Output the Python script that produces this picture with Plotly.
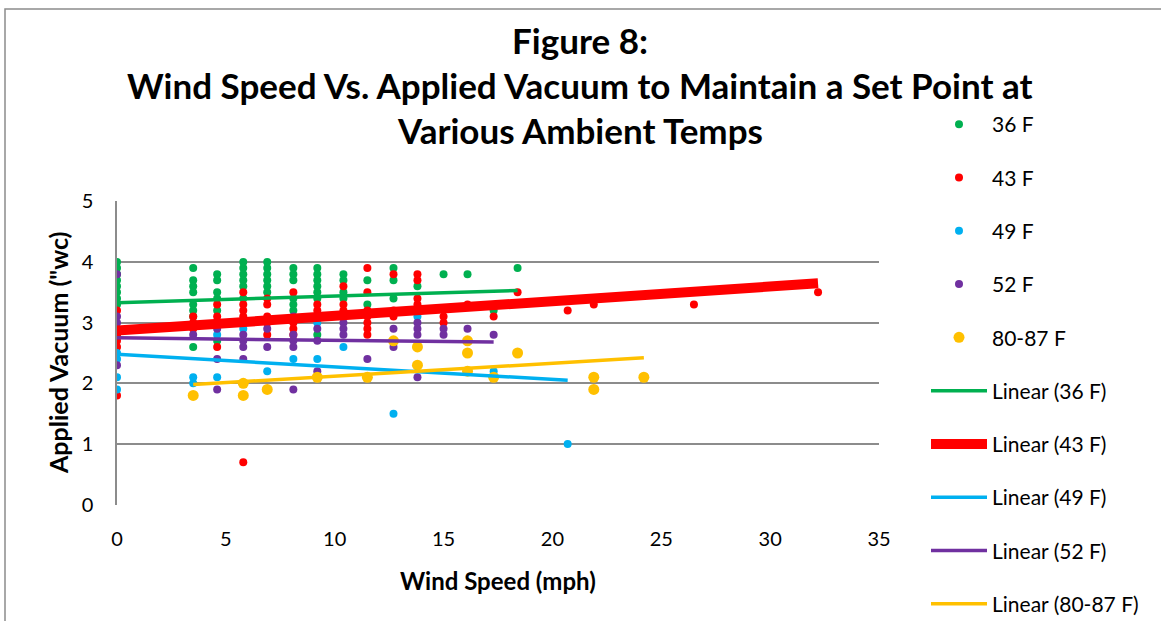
import plotly.graph_objects as go

# ---------------- data ----------------
x36 = [0]*9 + [3.5]*8 + [4.6]*6 + [5.8]*7 + [6.9]*6 + [8.1]*6 + [9.2]*7 + [10.4]*4 + [11.5]*2 + [12.7]*3 + [13.8, 15.0, 16.1, 17.3, 18.4]
y36 = [4.0, 3.9, 3.8, 3.7, 3.6, 3.5, 3.4, 3.3, 2.8,
       3.9, 3.7, 3.6, 3.5, 3.3, 3.2, 3.1, 2.6,
       3.8, 3.7, 3.5, 3.4, 3.2, 2.7,
       4.0, 3.9, 3.8, 3.7, 3.6, 3.4, 3.0,
       4.0, 3.9, 3.8, 3.7, 3.6, 3.5,
       3.9, 3.8, 3.7, 3.4, 3.3, 3.2,
       3.9, 3.8, 3.7, 3.6, 3.5, 3.4, 2.8,
       3.8, 3.7, 3.5, 3.4,
       3.7, 3.3,
       3.9, 3.7, 3.4,
       3.6, 3.8, 3.8, 3.2, 3.9]

x43 = [0]*5 + [3.5]*3 + [4.6]*4 + [5.8]*5 + [6.9]*5 + [8.1]*4 + [9.2]*3 + [10.4]*4 + [11.5]*7 + [12.7]*3 + [13.8]*5 + [15.0]*2 + [16.1, 17.3, 18.4, 20.7, 21.9, 26.5, 32.2]
y43 = [3.2, 2.8, 2.7, 2.6, 1.8,
       3.1, 3.0, 2.9,
       3.3, 3.1, 3.0, 2.6,
       3.5, 3.3, 3.2, 3.1, 0.7,
       3.4, 3.3, 3.1, 3.0, 2.8,
       3.5, 3.0, 2.9, 2.8,
       3.3, 3.2, 3.1,
       3.6, 3.3, 3.2, 3.1,
       3.9, 3.5, 3.2, 3.1, 3.0, 2.9, 2.8,
       3.8, 3.2, 3.1,
       3.8, 3.7, 3.4, 3.3, 3.2,
       3.1, 3.0,
       3.3, 3.1, 3.5, 3.2, 3.3, 3.3, 3.5]

x49 = [0, 0, 0, 0, 3.5, 3.5, 4.6, 4.6, 5.8, 6.9, 8.1, 9.2, 9.2, 10.4, 12.7, 13.8, 17.3, 20.7]
y49 = [2.5, 2.4, 2.1, 1.9, 2.1, 2.0, 2.8, 2.1, 2.9, 2.2, 2.4, 3.0, 2.4, 2.6, 1.5, 3.1, 2.2, 1.0]

x52 = [0]*5 + [3.5] + [4.6]*3 + [5.8]*4 + [6.9]*2 + [8.1]*5 + [9.2]*3 + [10.4]*3 + [11.5] + [12.7]*2 + [13.8]*4 + [15.0]*2 + [16.1, 17.3]
y52 = [3.8, 3.1, 3.0, 2.9, 2.3,
       2.8,
       2.9, 2.4, 1.9,
       2.8, 2.7, 2.6, 2.4,
       2.9, 2.6,
       3.1, 2.8, 2.7, 2.6, 1.9,
       2.9, 2.7, 2.2,
       3.0, 2.9, 2.8,
       2.4,
       2.9, 2.6,
       3.0, 2.9, 2.8, 2.1,
       2.9, 2.8,
       2.9, 2.8]

x80 = [3.5, 5.8, 5.8, 6.9, 9.2, 11.5, 12.7, 13.8, 13.8, 16.1, 16.1, 16.1, 17.3, 18.4, 21.9, 21.9, 24.2]
y80 = [1.8, 2.0, 1.8, 1.9, 2.1, 2.1, 2.7, 2.6, 2.3, 2.7, 2.5, 2.2, 2.1, 2.5, 2.1, 1.9, 2.1]

# linear trendline end points as drawn in the reference
tx36, ty36 = [0, 18.4], [3.33, 3.53]
tx43, ty43 = [0, 32.2], [2.87, 3.65]
tx49, ty49 = [0, 20.7], [2.48, 2.05]
tx52, ty52 = [0, 17.3], [2.75, 2.68]
tx80, ty80 = [3.5, 24.2], [1.98, 2.42]

x_ticks = [0, 5, 10, 15, 20, 25, 30, 35]
y_ticks = [0, 1, 2, 3, 4, 5]

GREEN, RED, BLUE, PURPLE, YELLOW = "#00B050", "#FF0000", "#00B0F0", "#7030A0", "#FFC000"
FONT = "Lato"

fig = go.Figure()

scatter_series = [
    ("36 F", x36, y36, GREEN, 8),
    ("43 F", x43, y43, RED, 8),
    ("49 F", x49, y49, BLUE, 8),
    ("52 F", x52, y52, PURPLE, 8),
    ("80-87 F", x80, y80, YELLOW, 11),
]
for name, xs, ys, col, sz in scatter_series:
    fig.add_trace(go.Scatter(x=xs, y=ys, mode="markers", name=name, legendgroup=name,
                             marker=dict(color=col, size=sz, line=dict(width=0))))

trend_series = [
    ("Linear (36 F)", tx36, ty36, GREEN, 3.5),
    ("Linear (43 F)", tx43, ty43, RED, 10),
    ("Linear (49 F)", tx49, ty49, BLUE, 3.5),
    ("Linear (52 F)", tx52, ty52, PURPLE, 3.5),
    ("Linear (80-87 F)", tx80, ty80, YELLOW, 3.5),
]
for name, xs, ys, col, w in trend_series:
    fig.add_trace(go.Scatter(x=xs, y=ys, mode="lines", name=name, legendgroup=name,
                             line=dict(color=col, width=w)))

# body margin is removed (see post_script) so positions are screenshot pixels
L, T = 117, 201
W, H = 1161, 621
pw, ph = 762, 304
R, B = W - L - pw, H - T - ph

def px_x(p):
    return (p - L) / pw

def px_y(p):
    return (T + ph - p) / ph

fig.update_layout(
    width=W, height=H,
    margin=dict(l=L, r=R, t=T, b=B, autoexpand=False),
    paper_bgcolor="white", plot_bgcolor="white",
    font=dict(family=FONT, color="#000000"),
    showlegend=True,
    legend=dict(x=px_x(926), y=px_y(104), xanchor="left", yanchor="top",
                font=dict(size=21, family=FONT), tracegroupgap=23,
                itemwidth=56, bgcolor="rgba(0,0,0,0)", maxheight=1.0),
    xaxis=dict(range=[0, 35], tickvals=x_ticks, showgrid=False, zeroline=False,
               showline=False, tickfont=dict(size=20), ticks="", ticklabelstandoff=20,
               fixedrange=True),
    yaxis=dict(range=[-0.006, 5.006], tickvals=y_ticks, showgrid=True, gridcolor="#8C8C8C",
               gridwidth=1.5, zeroline=False, showline=True, linecolor="#8C8C8C",
               linewidth=1.5, tickfont=dict(size=20), ticks="", ticklabelstandoff=18,
               fixedrange=True),
)

title_lines = [
    ("Figure 8:", 40),
    ("Wind Speed Vs. Applied Vacuum to Maintain a Set Point at", 85),
    ("Various Ambient Temps", 130),
]
for txt, yp in title_lines:
    fig.add_annotation(text=f"<b>{txt}</b>", xref="paper", yref="paper",
                       x=px_x(580), y=px_y(yp), xanchor="center", yanchor="middle",
                       showarrow=False, font=dict(size=35, family=FONT, color="#000"))

fig.add_annotation(text="<b>Wind Speed (mph)</b>", xref="paper", yref="paper",
                   x=px_x(498), y=px_y(580), xanchor="center", yanchor="middle",
                   showarrow=False, font=dict(size=24, family=FONT))
fig.add_annotation(text="<b>Applied Vacuum (\"wc)</b>", xref="paper", yref="paper",
                   x=px_x(58), y=px_y(353), xanchor="center", yanchor="middle",
                   textangle=-90, showarrow=False, font=dict(size=25, family=FONT))

# chart border
fig.add_shape(type="rect", xref="paper", yref="paper",
              x0=px_x(5), x1=px_x(1250), y0=px_y(700), y1=px_y(9),
              line=dict(color="#8C8C8C", width=1.5), layer="below")

fig.write_html("out.html", config={"displayModeBar": False},
               post_script="document.body.style.margin='0';document.body.style.overflow='hidden';")
